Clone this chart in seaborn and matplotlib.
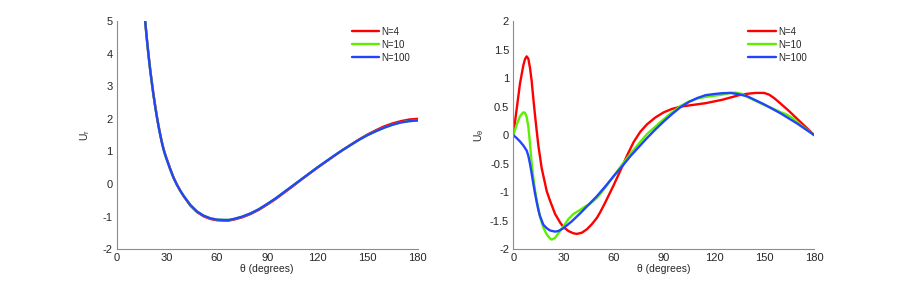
import numpy as np
import pandas as pd
import matplotlib
matplotlib.use('Agg')
import matplotlib.pyplot as plt
from matplotlib.lines import Line2D
from matplotlib.ticker import FuncFormatter
import seaborn as sns

# ------------------------------------------------------------------ #
# Data
# ------------------------------------------------------------------ #
SERIES = ['N=4', 'N=10', 'N=100']
COLORS = ['#ff0000', '#5cf000', '#2244ff']

# radial component U_r (left panel)
theta_r = [17, 18, 19, 20, 21, 22, 23, 24, 25, 26, 27, 28, 29, 30, 32, 34, 36, 38,
           40, 44, 48, 52, 56, 60, 64, 67, 70, 75, 80, 85, 90, 95, 100, 105,
           110, 115, 120, 125, 130, 135, 140, 145, 150, 155, 160, 165, 170, 175, 180]
ur_n100 = [5.00, 4.45, 3.95, 3.50, 3.10, 2.72, 2.38, 2.06, 1.77, 1.51, 1.27, 1.06,
           0.89, 0.74, 0.45, 0.19, -0.02, -0.20, -0.36, -0.64, -0.84, -0.97, -1.05,
           -1.09, -1.10, -1.10, -1.07, -1.00, -0.90, -0.77, -0.61, -0.44, -0.25,
           -0.06, 0.13, 0.32, 0.51, 0.69, 0.87, 1.04, 1.20, 1.36, 1.50, 1.62,
           1.73, 1.82, 1.89, 1.93, 1.95]
ur_n10 = [5.00, 4.45, 3.95, 3.50, 3.10, 2.72, 2.38, 2.06, 1.77, 1.51, 1.27, 1.06,
          0.89, 0.74, 0.45, 0.19, -0.02, -0.20, -0.36, -0.64, -0.84, -0.97, -1.05,
          -1.09, -1.10, -1.10, -1.07, -1.00, -0.90, -0.77, -0.61, -0.44, -0.25,
          -0.06, 0.13, 0.32, 0.51, 0.69, 0.87, 1.04, 1.20, 1.36, 1.50, 1.62,
          1.73, 1.82, 1.89, 1.93, 1.95]
ur_n4 = [5.00, 4.47, 3.97, 3.52, 3.12, 2.74, 2.40, 2.08, 1.79, 1.53, 1.29, 1.08,
         0.91, 0.76, 0.47, 0.20, -0.02, -0.21, -0.37, -0.66, -0.86, -0.99, -1.07,
         -1.11, -1.12, -1.12, -1.09, -1.02, -0.92, -0.79, -0.63, -0.46, -0.27,
         -0.08, 0.12, 0.31, 0.50, 0.68, 0.86, 1.04, 1.21, 1.37, 1.52, 1.65,
         1.77, 1.86, 1.93, 1.98, 2.00]

# tangential component U_theta (right panel)
theta_t_n4 = [0, 2, 4, 6, 7, 8, 9, 10, 11, 12, 13, 14, 15, 17, 20, 22, 25, 28, 30,
              33, 36, 38, 41, 44, 47, 50, 52, 55, 60, 65, 68, 72, 76, 80, 85, 90,
              95, 100, 105, 110, 115, 120, 125, 130, 135, 140, 145, 150, 153, 156,
              160, 165, 170, 175, 180]
ut_n4 = [0.00, 0.45, 0.90, 1.22, 1.33, 1.38, 1.34, 1.18, 0.95, 0.64, 0.35, 0.08,
         -0.18, -0.58, -0.98, -1.15, -1.38, -1.53, -1.61, -1.68, -1.72, -1.73,
         -1.71, -1.65, -1.56, -1.45, -1.35, -1.18, -0.88, -0.56, -0.36, -0.12,
         0.06, 0.19, 0.31, 0.40, 0.46, 0.50, 0.52, 0.54, 0.56, 0.59, 0.62, 0.66,
         0.70, 0.725, 0.74, 0.74, 0.71, 0.65, 0.55, 0.42, 0.28, 0.14, 0.00]

theta_t_n10 = [0, 2, 4, 6, 7, 8, 9, 10, 11, 12, 13, 14, 16, 18, 20, 22, 23, 25, 27,
               30, 33, 36, 40, 43, 46, 50, 55, 60, 65, 70, 75, 80, 85, 90, 95, 100,
               105, 110, 115, 120, 125, 130, 133, 137, 140, 145, 150, 155, 160, 163,
               167, 170, 175, 180]
ut_n10 = [0.00, 0.18, 0.33, 0.40, 0.39, 0.32, 0.15, -0.15, -0.49, -0.75, -0.96,
          -1.14, -1.43, -1.62, -1.74, -1.81, -1.83, -1.80, -1.72, -1.60, -1.47,
          -1.38, -1.31, -1.25, -1.20, -1.10, -0.92, -0.72, -0.52, -0.33, -0.15,
          0.02, 0.15, 0.28, 0.40, 0.51, 0.59, 0.64, 0.67, 0.69, 0.71, 0.74, 0.745,
          0.72, 0.67, 0.60, 0.53, 0.47, 0.40, 0.37, 0.30, 0.22, 0.11, 0.00]

theta_t_n100 = [0, 2, 4, 6, 8, 9, 10, 11, 12, 13, 14, 15, 16, 18, 20, 22, 25, 27,
                30, 35, 40, 45, 50, 55, 60, 65, 70, 75, 80, 85, 90, 95, 100, 105,
                110, 115, 120, 125, 130, 135, 140, 145, 150, 155, 160, 165, 170,
                175, 180]
ut_n100 = [0.00, -0.05, -0.11, -0.18, -0.27, -0.36, -0.50, -0.67, -0.85, -1.02,
           -1.17, -1.31, -1.42, -1.57, -1.63, -1.67, -1.69, -1.68, -1.63, -1.51,
           -1.37, -1.22, -1.07, -0.90, -0.72, -0.55, -0.37, -0.21, -0.05, 0.10,
           0.24, 0.37, 0.49, 0.58, 0.65, 0.70, 0.72, 0.735, 0.74, 0.715, 0.68,
           0.61, 0.54, 0.46, 0.38, 0.29, 0.20, 0.10, 0.00]


def long_frame(pairs):
    frames = []
    for name, (x, y) in zip(SERIES, pairs):
        frames.append(pd.DataFrame({'theta': x, 'U': y, 'N': name}))
    return pd.concat(frames, ignore_index=True)


df_r = long_frame([(theta_r, ur_n4), (theta_r, ur_n10), (theta_r, ur_n100)])
df_t = long_frame([(theta_t_n4, ut_n4), (theta_t_n10, ut_n10), (theta_t_n100, ut_n100)])

# ------------------------------------------------------------------ #
# Style
# ------------------------------------------------------------------ #
sns.set_style('white')
plt.rcParams['font.family'] = ['Liberation Sans', 'DejaVu Sans']
plt.rcParams['mathtext.fontset'] = 'custom'
plt.rcParams['mathtext.rm'] = 'Liberation Sans'
plt.rcParams['mathtext.it'] = 'Liberation Sans:italic'
plt.rcParams['axes.unicode_minus'] = False

SPINE = '#8c8c8c'
TXT = '#262626'

fig = plt.figure(figsize=(9, 2.81), dpi=100)
ax_r = fig.add_axes([0.1297, 0.1128, 0.3344, 0.8125])
ax_t = fig.add_axes([0.5703, 0.1128, 0.3344, 0.8125])

palette = dict(zip(SERIES, COLORS))

for ax, df, ylim, yticks, ylab, ylab_x in [
    (ax_r, df_r, (-2, 5), np.arange(-2, 5.01, 1), r'U$_\mathrm{r}$', -0.082),
    (ax_t, df_t, (-2, 2), np.arange(-2, 2.01, 0.5), r'U$_\mathrm{\theta}$', -0.091),
]:
    sns.lineplot(data=df, x='theta', y='U', hue='N', hue_order=SERIES,
                 palette=palette, estimator=None, linewidth=1.7,
                 legend=False, ax=ax)
    ax.set_xlim(0, 180)
    ax.set_ylim(*ylim)
    ax.set_xticks(np.arange(0, 181, 30))
    ax.set_yticks(yticks)
    ax.yaxis.set_major_formatter(FuncFormatter(lambda v, p: f'{v:g}'))
    ax.tick_params(direction='in', length=3, width=0.8, colors=SPINE,
                   labelcolor=TXT, labelsize=8, pad=3)
    for side in ['top', 'right']:
        ax.spines[side].set_visible(False)
    for side in ['left', 'bottom']:
        ax.spines[side].set_color(SPINE)
        ax.spines[side].set_linewidth(0.8)

    ax.set_xlabel('θ (degrees)', fontsize=7.5, color=TXT)
    ax.xaxis.set_label_coords(0.5, -0.065)
    ax.set_ylabel(ylab, fontsize=7.5, color=TXT)
    ax.yaxis.set_label_coords(ylab_x, 0.5)

    handles = [Line2D([], [], color=c, lw=1.7) for c in COLORS]
    ax.legend(handles, SERIES, loc='upper left', bbox_to_anchor=(0.781, 0.975),
              frameon=False, fontsize=7, handlelength=2.85, handletextpad=0.2,
              labelspacing=0.3, borderpad=0, borderaxespad=0)

fig.savefig('out.png', dpi=100)
